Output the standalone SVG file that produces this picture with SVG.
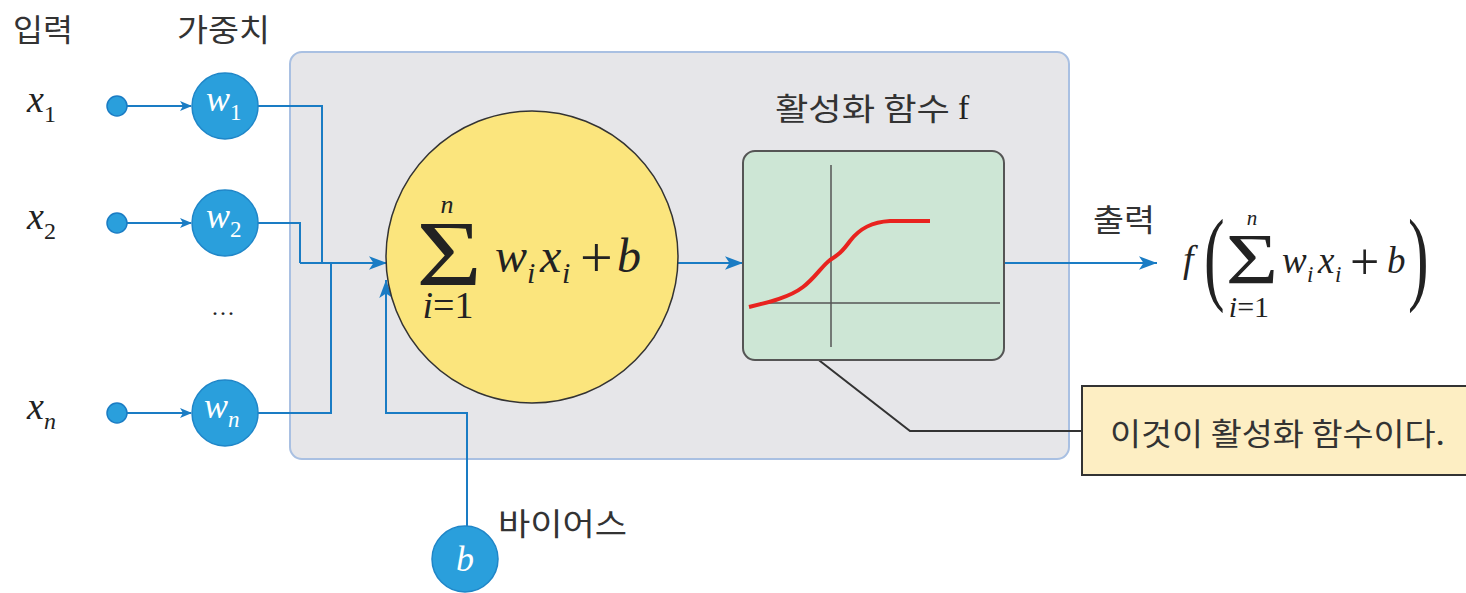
<svg xmlns="http://www.w3.org/2000/svg" width="1466" height="593" viewBox="0 0 1466 593">
<defs>
<marker id="arr" viewBox="0 0 12 10" refX="11" refY="5" markerWidth="12" markerHeight="10" markerUnits="userSpaceOnUse" orient="auto">
<path d="M0,0 L12,5 L0,10 L3,5 z" fill="#1a7cc4"/>
</marker>
<marker id="arrBig" viewBox="0 0 16 12" refX="16" refY="6" markerWidth="18" markerHeight="14" markerUnits="userSpaceOnUse" orient="auto">
<path d="M0,0 L16,6 L0,12 L4,6 z" fill="#1a7cc4"/>
</marker>
</defs>
<style>
.ko{font-family:"Noto Sans CJK KR","Noto Sans",sans-serif;fill:#333;}
.m{font-family:"Liberation Serif","DejaVu Serif",serif;font-style:italic;fill:#222;}
.mu{font-family:"Liberation Serif","DejaVu Serif",serif;font-style:normal;fill:#222;}
.wt{font-family:"Liberation Serif","DejaVu Serif",serif;font-style:italic;fill:#fff;}
.conn{fill:none;stroke:#1a7cc4;stroke-width:2;}
.dot{fill:#2a9fdc;stroke:#1a7cc4;stroke-width:1.5;}
.wc{fill:#2a9fdc;stroke:#1f86c8;stroke-width:1.5;}
</style>
<rect width="1466" height="593" fill="#fff"/>

<g id="panel">
<rect x="290" y="52" width="779" height="407" rx="12" fill="#e6e6e9" stroke="#a9c0e2" stroke-width="2"/>
</g>

<g id="headers">
<text class="ko" x="13" y="41" font-size="31" textLength="60" lengthAdjust="spacingAndGlyphs">입력</text>
<text class="ko" x="177" y="41" font-size="31" textLength="93" lengthAdjust="spacingAndGlyphs">가중치</text>
</g>

<g id="input-labels">
<text class="m" x="27" y="112" font-size="38">x<tspan font-size="24" font-style="normal" dy="10">1</tspan></text>
<text class="m" x="27" y="229" font-size="38">x<tspan font-size="24" font-style="normal" dy="10">2</tspan></text>
<text class="m" x="27" y="419" font-size="38">x<tspan font-size="24" dy="10">n</tspan></text>
<text class="mu" x="223" y="321" font-size="24" text-anchor="middle">···</text>
</g>

<g id="connectors">
<line class="conn" x1="117" y1="106" x2="191" y2="106" marker-end="url(#arr)"/>
<line class="conn" x1="117" y1="223" x2="191" y2="223" marker-end="url(#arr)"/>
<line class="conn" x1="117" y1="413" x2="191" y2="413" marker-end="url(#arr)"/>
<polyline class="conn" points="258,106 322,106 322,263"/>
<polyline class="conn" points="258,223 300,223 300,263"/>
<polyline class="conn" points="258,413 331,413 331,263"/>
<line class="conn" x1="300" y1="263" x2="387" y2="263" marker-end="url(#arrBig)"/>
<polyline class="conn" points="467,526 467,413 386,413 386,280" marker-end="url(#arrBig)"/>
<line class="conn" x1="678" y1="263" x2="743" y2="263" marker-end="url(#arrBig)"/>
<line class="conn" x1="1004" y1="263" x2="1157" y2="263" marker-end="url(#arrBig)"/>
<polyline points="802,347 910,431 1082,431" fill="none" stroke="#333" stroke-width="2"/>
</g>

<g id="input-dots">
<circle class="dot" cx="117" cy="106" r="10"/>
<circle class="dot" cx="117" cy="223" r="10"/>
<circle class="dot" cx="117" cy="413" r="10"/>
</g>

<g id="w1">
<circle class="wc" cx="225" cy="106" r="33"/>
<text class="wt" x="206" y="111" font-size="36">w<tspan font-size="23" font-style="normal" dy="9">1</tspan></text>
</g>
<g id="w2">
<circle class="wc" cx="225" cy="223" r="33"/>
<text class="wt" x="206" y="228" font-size="36">w<tspan font-size="23" font-style="normal" dy="9">2</tspan></text>
</g>
<g id="wn">
<circle class="wc" cx="225" cy="413" r="33"/>
<text class="wt" x="204" y="418" font-size="36">w<tspan font-size="23" dy="9">n</tspan></text>
</g>

<g id="bias">
<circle class="wc" cx="465" cy="559" r="33"/>
<text class="wt" x="465" y="571" font-size="36" text-anchor="middle">b</text>
<text class="ko" x="498" y="535" font-size="31" textLength="129" lengthAdjust="spacingAndGlyphs">바이어스</text>
</g>

<g id="sum">
<circle cx="532" cy="257" r="146" fill="#fbe57d" stroke="#333" stroke-width="1.5"/>
<text class="mu" transform="translate(449,285) scale(1.2,1)" font-size="94" text-anchor="middle">Σ</text>
<text class="m" x="447" y="213" font-size="26" text-anchor="middle">n</text>
<text class="m" x="448" y="318" font-size="38" text-anchor="middle">i<tspan font-style="normal">=1</tspan></text>
<text class="m" font-size="48"><tspan x="495" y="272">w</tspan><tspan x="527" y="283" font-size="30">i</tspan><tspan x="540" y="272">x</tspan><tspan x="562" y="283" font-size="30">i</tspan><tspan x="580" y="277" font-size="58" font-style="normal">+</tspan><tspan x="617" y="272">b</tspan></text>
</g>

<g id="activation">
<text class="ko" x="775" y="120" font-size="31" textLength="175" lengthAdjust="spacingAndGlyphs">활성화 함수</text>
<text class="mu" x="958" y="119" font-size="34">f</text>
<rect x="743" y="151" width="261" height="209" rx="12" fill="#cde6d5" stroke="#555" stroke-width="2"/>
<line x1="831" y1="165" x2="831" y2="347" stroke="#555" stroke-width="1.5"/>
<line x1="760" y1="303" x2="1000" y2="303" stroke="#555" stroke-width="1.5"/>
<path d="M749,307 C770,302 790,297 803,287 C815,278 822,266 830,260 C838,255 842,252 850,241 C860,228 872,222 890,221 L930,221" fill="none" stroke="#e8231f" stroke-width="4"/>
</g>

<g id="output">
<text class="ko" x="1093" y="231" font-size="31" textLength="62" lengthAdjust="spacingAndGlyphs">출력</text>
<text class="m" x="1183" y="272" font-size="38">f</text>
<text class="mu" transform="translate(1204,291) scale(0.6,1)" font-size="103">(</text>
<text class="mu" transform="translate(1252,283) scale(1.25,1)" font-size="72" text-anchor="middle">Σ</text>
<text class="m" x="1252" y="225" font-size="21" text-anchor="middle">n</text>
<text class="m" x="1249" y="317" font-size="30" text-anchor="middle">i<tspan font-style="normal">=1</tspan></text>
<text class="m" font-size="37"><tspan x="1282" y="273">w</tspan><tspan x="1307" y="282" font-size="23">i</tspan><tspan x="1318" y="273">x</tspan><tspan x="1335" y="282" font-size="23">i</tspan><tspan x="1350" y="279" font-size="52" font-style="normal">+</tspan><tspan x="1387" y="273">b</tspan></text>
<text class="mu" transform="translate(1408,291) scale(0.6,1)" font-size="103">)</text>
</g>

<g id="callout">
<rect x="1082" y="386" width="390" height="89" fill="#fdeec3" stroke="#333" stroke-width="2"/>
<text class="ko" x="1110" y="445" font-size="31" textLength="335" lengthAdjust="spacingAndGlyphs">이것이 활성화 함수이다.</text>
</g>
</svg>
